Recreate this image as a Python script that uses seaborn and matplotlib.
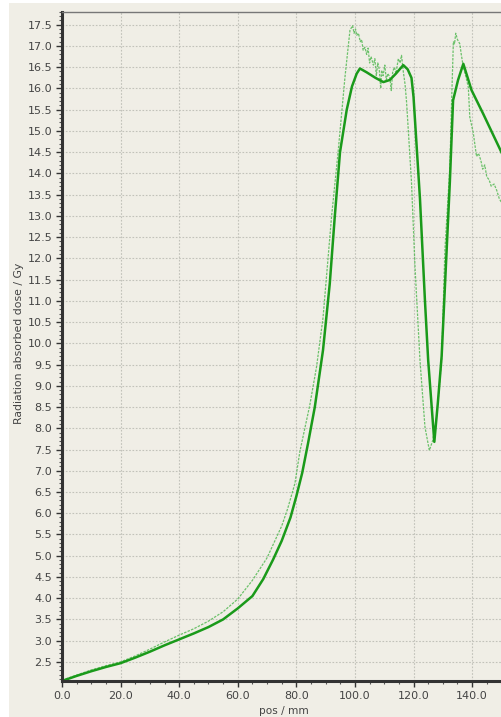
import matplotlib
matplotlib.use("Agg")
import matplotlib.pyplot as plt
import matplotlib.ticker as mticker
from matplotlib.patches import Rectangle
import numpy as np
import pandas as pd
import seaborn as sns

# Calculated dose (solid)
calc_pos = [0, 5, 10, 15, 20, 25, 30, 35, 40, 45, 50, 55, 57.3, 60, 65, 68.7, 72, 75, 78, 80,
            82, 84, 86.3, 89.1, 91.4, 93.1, 94.9, 97.2, 99, 100.6, 101.7, 104, 107, 109.7,
            111.9, 114, 116.5, 118, 119.3, 120, 122.2, 123.9, 125, 127.1, 128.3, 129.6, 131.3,
            132.4, 133.5, 135.2, 137, 139.8, 143.8, 150.2]
calc_dose = [2.05, 2.17, 2.28, 2.38, 2.47, 2.6, 2.74, 2.89, 3.03, 3.17, 3.32, 3.5, 3.62, 3.76,
             4.05, 4.45, 4.9, 5.35, 5.9, 6.4, 6.95, 7.65, 8.5, 9.84, 11.4, 12.97, 14.5, 15.5,
             16.05, 16.35, 16.47, 16.38, 16.25, 16.15, 16.2, 16.35, 16.55, 16.45, 16.25, 15.8,
             13.4, 11.0, 9.6, 7.68, 8.6, 9.7, 12.19, 13.8, 15.72, 16.2, 16.58, 15.96, 15.4,
             14.47]

# Measured dose (thin dotted)
meas_pos = [0, 5, 10, 15, 20, 25, 30, 35, 40, 45, 50, 55, 60, 65, 70, 75, 77, 79.5, 81.2,
            84.6, 86.9, 89.1, 92, 94.3, 96.6, 98.3, 99.2, 99.7, 100.2, 100.6, 101.2, 101.8,
            102.3, 102.8, 103.4, 104, 104.5, 105, 105.5, 106.3, 106.8, 107.3, 107.8, 108.3,
            108.8, 109.1, 109.6, 110.2, 110.7, 111.2, 111.9, 112.4, 112.9, 113.5, 114, 114.8,
            115.4, 115.9, 116.5, 117.1, 117.6, 119.3, 120.5, 122.2, 123.9, 125.4, 126.5,
            127.9, 129.6, 130.7, 132.4, 133, 133.6, 134, 134.4, 135, 135.8, 136.3, 137, 137.8,
            138.7, 139.2, 140.4, 141.5, 142.2, 143, 143.6, 144.3, 145, 145.8, 146.5, 147.5,
            148.4, 149.3, 150.2]
meas_dose = [2.07, 2.19, 2.31, 2.41, 2.5, 2.64, 2.8, 2.97, 3.13, 3.28, 3.46, 3.68, 3.98, 4.42,
             4.95, 5.7, 6.1, 6.7, 7.45, 8.55, 9.45, 10.6, 12.97, 14.54, 16.27, 17.37, 17.48,
             17.3, 17.4, 17.25, 17.3, 17.1, 17.15, 16.9, 16.97, 16.8, 16.95, 16.6, 16.75,
             16.55, 16.7, 16.3, 16.6, 16.45, 16.0, 16.43, 16.3, 16.55, 16.2, 16.35, 16.27,
             15.95, 16.4, 16.5, 16.35, 16.7, 16.6, 16.78, 16.4, 16.1, 15.7, 13.8, 11.8, 9.6,
             8.03, 7.48, 7.7, 8.27, 9.6, 12.19, 14.15, 15.7, 17.1, 17.05, 17.3, 17.15, 17.05,
             16.8, 16.5, 16.3, 16.03, 15.33, 14.95, 14.4, 14.47, 14.3, 14.1, 14.2, 13.92,
             13.85, 13.7, 13.75, 13.6, 13.4, 13.3]

x_ticks = [0, 20, 40, 60, 80, 100, 120, 140]
y_ticks = [2.5 + 0.5 * i for i in range(31)]

calc_df = pd.DataFrame({"pos": calc_pos, "dose": calc_dose})
meas_df = pd.DataFrame({"pos": meas_pos, "dose": meas_dose})

bg = "#f0eee6"
fig = plt.figure(figsize=(5.02, 7.17), dpi=100)
fig.patch.set_facecolor("white")
fig.patches.append(Rectangle((9 / 502, 0), 1, 714 / 717, transform=fig.transFigure,
                             facecolor=bg, edgecolor="none", zorder=-10))

ax = fig.add_axes([62 / 502, 36 / 717, 1 - 62 / 502, (681 - 12) / 717])
ax.set_facecolor(bg)

sns.lineplot(data=meas_df, x="pos", y="dose", ax=ax, estimator=None, sort=False,
             color="#55b955", linewidth=0.9, linestyle=(0, (2, 1)), alpha=0.85)
sns.lineplot(data=calc_df, x="pos", y="dose", ax=ax, estimator=None, sort=False,
             color="#1a9a1a", linewidth=1.8)

ax.set_xlim(0, 150.2)
ax.set_ylim(2.05, 17.8)
ax.set_xticks(x_ticks)
ax.set_yticks(y_ticks)
ax.xaxis.set_major_formatter(mticker.FormatStrFormatter("%.1f"))
ax.yaxis.set_major_formatter(mticker.FormatStrFormatter("%.1f"))
ax.xaxis.set_minor_locator(mticker.MultipleLocator(5))
ax.yaxis.set_minor_locator(mticker.MultipleLocator(0.1))

ax.tick_params(axis="both", which="major", labelsize=8, labelcolor="#444444",
               color="#333333", length=4, width=1, direction="out", pad=3)
ax.tick_params(axis="both", which="minor", color="#555555", length=2, width=0.8,
               direction="out")

ax.grid(True, which="major", color="#c2c2ba", linestyle=(0, (1.5, 1.5)), linewidth=0.8)
ax.set_axisbelow(True)

for s in ["left", "bottom"]:
    ax.spines[s].set_color("#333333")
    ax.spines[s].set_linewidth(2.2)
ax.spines["top"].set_color("#777777")
ax.spines["top"].set_linewidth(1.0)
ax.spines["right"].set_visible(False)

ax.set_xlabel("")
ax.set_ylabel("")
fig.text(284 / 502, 1 - 711 / 717, "pos / mm", ha="center", va="center",
         fontsize=7.6, color="#444444")
fig.text(19 / 502, 1 - 343 / 717, "Radiation absorbed dose / Gy", ha="center",
         va="center", rotation=90, fontsize=7.8, color="#444444")

fig.savefig("out.png", dpi=100, facecolor=fig.get_facecolor())
